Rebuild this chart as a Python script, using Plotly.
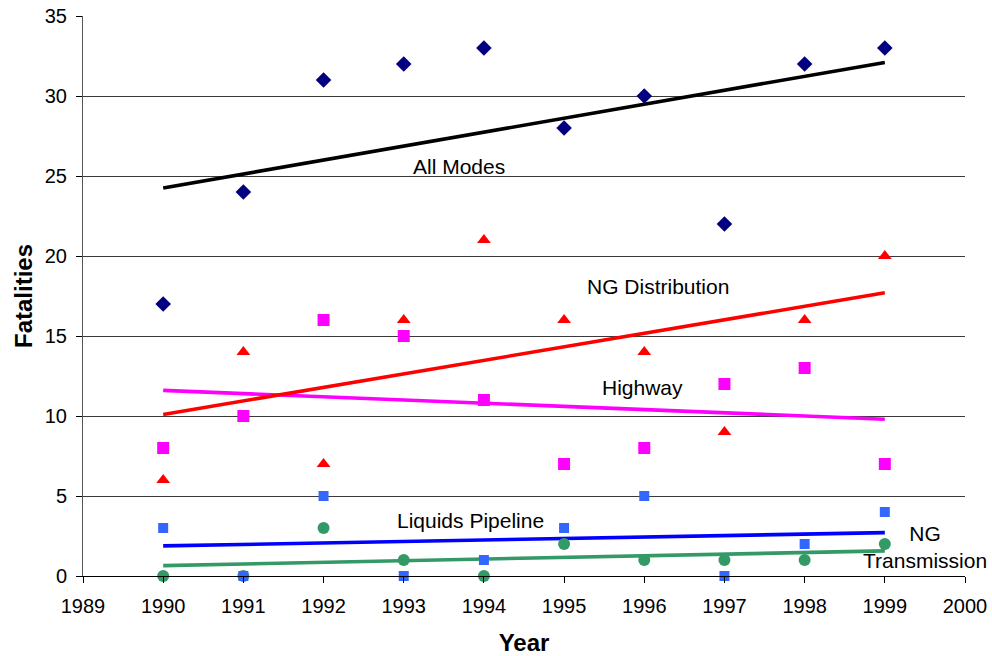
import plotly.graph_objects as go

years = [1990, 1991, 1992, 1993, 1994, 1995, 1996, 1997, 1998, 1999]
all_modes = [17, 24, 31, 32, 33, 28, 30, 22, 32, 33]
ng_distribution = [6, 14, 7, 16, 21, 16, 14, 9, 16, 20]
highway = [8, 10, 16, 15, 11, 7, 8, 12, 13, 7]
liquids_pipeline = [3, 0, 5, 0, 1, 3, 5, 0, 2, 4]
ng_transmission = [0, 0, 3, 1, 0, 2, 1, 1, 1, 2]

trend_years = [1990, 1999]
all_modes_trend = [24.25, 32.1]
ng_distribution_trend = [10.1, 17.7]
highway_trend = [11.6, 9.8]
liquids_pipeline_trend = [1.88, 2.71]
ng_transmission_trend = [0.65, 1.57]

x_ticks = list(range(1989, 2001))
y_ticks = [0, 5, 10, 15, 20, 25, 30, 35]

fig = go.Figure()

def trend(y, color):
    fig.add_trace(go.Scatter(x=trend_years, y=y, mode="lines",
                             line=dict(color=color, width=3.6), showlegend=False, hoverinfo="skip"))

def pts(y, color, symbol, size):
    fig.add_trace(go.Scatter(x=years, y=y, mode="markers",
                             marker=dict(color=color, symbol=symbol, size=size, line=dict(width=0)),
                             showlegend=False, cliponaxis=False))

trend(ng_transmission_trend, "#339966")
trend(liquids_pipeline_trend, "#0000FF")
trend(highway_trend, "#FF00FF")
trend(ng_distribution_trend, "#FF0000")
trend(all_modes_trend, "#000000")

pts(ng_transmission, "#339966", "circle", 12)
pts(liquids_pipeline, "#3366FF", "square", 10)
pts(highway, "#FF00FF", "square", 12)
pts(ng_distribution, "#FF0000", "triangle-up", 12)
pts(all_modes, "#000080", "diamond", 12)

font = "Liberation Sans, Arial, sans-serif"
labels = [
    (1993.69, 25.6, "All Modes"),
    (1996.17, 18.1, "NG Distribution"),
    (1995.98, 11.77, "Highway"),
    (1993.83, 3.44, "Liquids Pipeline"),
    (1999.5, 1.82, "NG<br>Transmission"),
]
for x, y, t in labels:
    fig.add_annotation(x=x, y=y, text=t, showarrow=False, xanchor="center", yanchor="middle",
                       font=dict(family=font, size=21, color="#000000"))

fig.update_layout(
    width=992, height=656,
    margin=dict(l=83, r=27, t=16, b=80),
    paper_bgcolor="white", plot_bgcolor="white",
    font=dict(family=font, size=20, color="#000000"),
)
fig.update_xaxes(
    range=[1989, 2000], tickvals=x_ticks, ticktext=[str(v) for v in x_ticks],
    showgrid=False, zeroline=False, showline=True, linecolor="#000000", linewidth=1,
    ticks="outside", ticklen=6, tickcolor="#000000", automargin=False,
    ticklabelstandoff=6, ticklabeloverflow="allow",
    title=dict(text="<b>Year</b>", font=dict(size=24, family=font), standoff=21),
    tickfont=dict(size=20),
)
fig.update_yaxes(
    range=[0, 35], tickvals=y_ticks,
    showgrid=True, gridcolor="#3a3a3a", gridwidth=1, zeroline=False,
    showline=True, linecolor="#555555", linewidth=1,
    ticks="outside", ticklen=6, tickcolor="#000000", automargin=False,
    ticklabelstandoff=5, ticklabeloverflow="allow",
    title=dict(text="<b>Fatalities</b>", font=dict(size=24, family=font), standoff=5),
    tickfont=dict(size=20),
)

# remove the default page margin so the figure fills the window exactly
fig.write_html("out.html", config={"displayModeBar": False},
               post_script="document.body.style.margin='0';")
